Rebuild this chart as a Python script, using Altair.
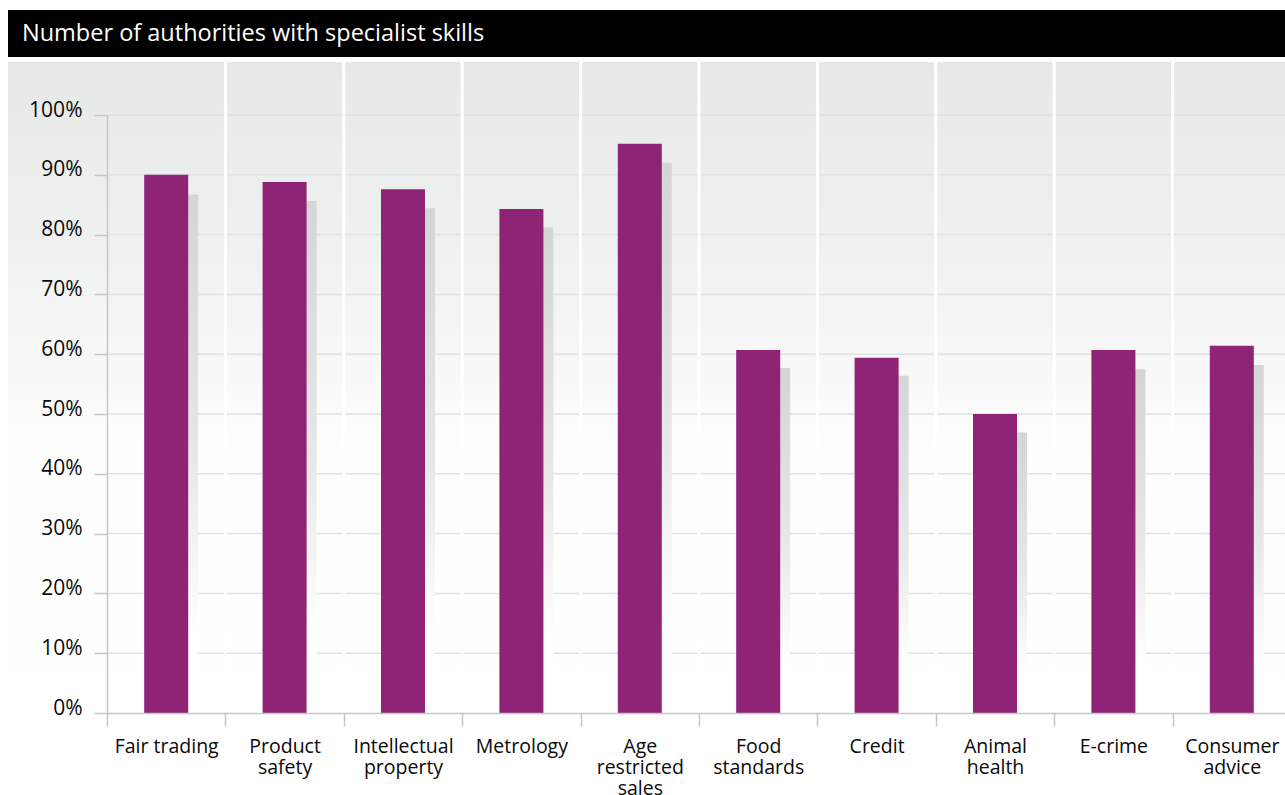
import altair as alt
import pandas as pd

# ---- data ----
categories = [
    "Fair trading", "Product\nsafety", "Intellectual\nproperty", "Metrology",
    "Age\nrestricted\nsales", "Food\nstandards", "Credit", "Animal\nhealth",
    "E-crime", "Consumer\nadvice",
]
share = [90.0, 88.8, 87.6, 84.3, 95.2, 60.7, 59.4, 50.0, 60.7, 61.4]
shadow = [86.7, 85.6, 84.4, 81.2, 92.0, 57.7, 56.4, 46.9, 57.5, 58.2]
y_ticks = [0, 10, 20, 30, 40, 50, 60, 70, 80, 90, 100]
title_text = "Number of authorities with specialist skills"

df = pd.DataFrame({"cat": categories, "share": share, "shadow": shadow})
ticks_df = pd.DataFrame({"v": y_ticks[1:]})
one = pd.DataFrame({"a": [0]})

W, H = 1178, 598
FONT = "Open Sans"
AXIS_GREY = "#c6c6c6"
TEXT = "#0a0a0a"

x_axis = alt.Axis(
    title=None, tickBand="extent", tickSize=13, tickColor=AXIS_GREY, tickWidth=1.5,
    domainColor=AXIS_GREY, domainWidth=1.5, labelFont=FONT, labelFontSize=19.5,
    labelColor=TEXT, labelPadding=11, labelLineHeight=21, labelAngle=0,
    labelExpr="split(datum.label, '\\n')", grid=False, zindex=1,
)
y_axis = alt.Axis(
    title=None, values=y_ticks, tickSize=13, tickColor=AXIS_GREY, tickWidth=1.5,
    domainColor=AXIS_GREY, domainWidth=1.5, labelFont=FONT, labelFontSize=21,
    labelColor=TEXT, labelPadding=12, labelOffset=-5,
    labelExpr="datum.value + '%'", grid=False, zindex=1,
)
x_scale = alt.Scale(domain=categories, range=[0, 1184], paddingInner=0, paddingOuter=0)
y_scale = alt.Scale(domain=[0, 100], nice=False)

bg_grad = alt.Gradient(
    gradient="linear", x1=0, x2=0, y1=0, y2=1,
    stops=[
        alt.GradientStop(offset=0, color="#e6e7e7"),
        alt.GradientStop(offset=0.1, color="#eaebeb"),
        alt.GradientStop(offset=0.25, color="#eeefef"),
        alt.GradientStop(offset=0.45, color="#f7f7f7"),
        alt.GradientStop(offset=0.6, color="#fefefe"),
        alt.GradientStop(offset=1, color="#ffffff"),
    ],
)
shadow_grad = alt.Gradient(
    gradient="linear", x1=0, x2=0, y1=0, y2=1,
    stops=[
        alt.GradientStop(offset=0, color="#d4d5d7"),
        alt.GradientStop(offset=0.5, color="#e6e7e8"),
        alt.GradientStop(offset=0.85, color="#ffffff"),
        alt.GradientStop(offset=1, color="#ffffff"),
    ],
)

background = alt.Chart(one).mark_rect(fill=bg_grad).encode(
    x=alt.value(-99), x2=alt.value(W), y=alt.value(-53), y2=alt.value(H)
)
title_bar = alt.Chart(one).mark_rect(fill="#000000").encode(
    x=alt.value(-99), x2=alt.value(W), y=alt.value(-105), y2=alt.value(-58)
)
title = alt.Chart(one).mark_text(
    text=title_text, align="left", baseline="middle", color="#ffffff",
    font=FONT, fontSize=23.5,
).encode(x=alt.value(-85), y=alt.value(-81))

grid = alt.Chart(ticks_df).mark_rule(color="#e0e1e1", strokeWidth=1.5).encode(
    y=alt.Y("v:Q", scale=y_scale, axis=y_axis)
)

separators = (
    alt.Chart(df)
    .transform_filter(alt.datum.cat != categories[0])
    .mark_rule(color="#ffffff", strokeWidth=3)
    .encode(
        x=alt.X("cat:N", scale=x_scale, axis=x_axis, bandPosition=0),
        y=alt.value(-53), y2=alt.value(H),
    )
)

shadows = alt.Chart(df).mark_bar(size=44, xOffset=10, fill=shadow_grad).encode(
    x=alt.X("cat:N", scale=x_scale, axis=x_axis),
    y=alt.Y("shadow:Q", scale=y_scale, axis=y_axis),
)

bars = alt.Chart(df).mark_bar(size=44, color="#8f2477").encode(
    x=alt.X("cat:N", scale=x_scale, axis=x_axis),
    y=alt.Y("share:Q", scale=y_scale, axis=y_axis),
)

chart = (
    alt.layer(background, title_bar, title, grid, separators, shadows, bars)
    .properties(
        width=W, height=H,
        padding={"left": 107, "top": 115, "right": 0, "bottom": 82},
        autosize=alt.AutoSizeParams(type="none"),
        background="#ffffff",
    )
    .configure_view(stroke=None)
)

chart.save("out.html", embed_options={"renderer": "svg", "actions": False})
